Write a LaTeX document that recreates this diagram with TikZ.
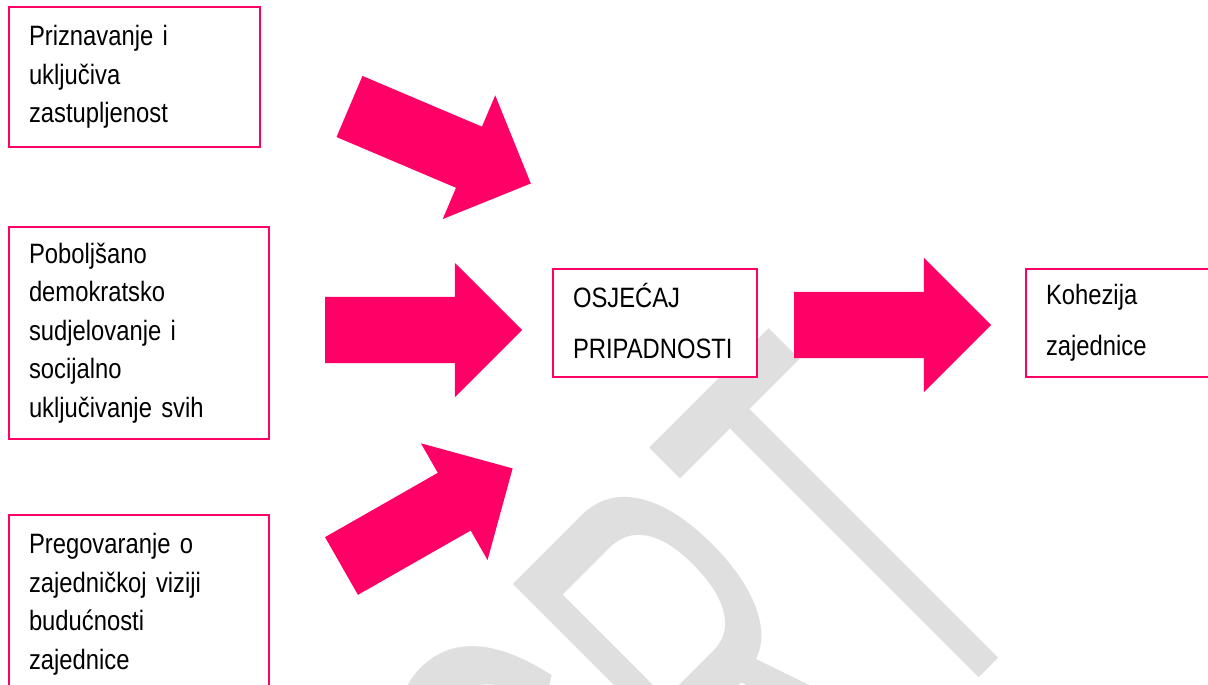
\documentclass[tikz,border=0pt]{standalone}
\usepackage{fontspec}
\usepackage{graphicx}
\setmainfont{Liberation Sans}[FakeStretch=0.85, WordSpace=0.85]
\newfontfamily\wmfont{Liberation Sans}
\usetikzlibrary{shapes.arrows}
\definecolor{pinkred}{RGB}{255,0,102}
\definecolor{wmgray}{RGB}{223,223,223}

\begin{document}
\begin{tikzpicture}[x=1pt, y=1pt,
  box/.style={draw=pinkred, line width=1.5pt, fill=white, anchor=north west, outer sep=0pt,
    align=left, inner xsep=20pt, inner ysep=0pt, font=\fontsize{28}{38.5}\selectfont},
  bigbox/.style={box, font=\fontsize{28}{51}\selectfont},
  blockarrow/.style={single arrow, fill=pinkred, anchor=tail, outer sep=0pt, inner xsep=0pt,
    inner ysep=33pt, minimum height=197pt, single arrow head extend=34pt}]
\useasboundingbox (0,0) rectangle (1208,-685);
\clip (0,0) rectangle (1208,-685);

\node[anchor=base east, rotate=45, inner sep=0pt, text=wmgray] (wm) at (1054,-603)
  {\wmfont\fontsize{575}{575}\selectfont\scalebox{0.52}[1]{NACRT}};

\node[box, minimum width=251pt, minimum height=140pt, text width=211pt] (recog) at (9,-7)
  {Priznavanje i\\uključiva\\zastupljenost};
\node[box, minimum width=260pt, minimum height=212pt, text width=220pt] (partic) at (9,-227)
  {Poboljšano\\demokratsko\\sudjelovanje i\\socijalno\\uključivanje svih};
\node[box, minimum width=260pt, minimum height=179pt, text width=220pt] (vision) at (9,-515)
  {Pregovaranje o\\zajedničkoj viziji\\budućnosti\\zajednice};
\node[bigbox, minimum width=204pt, minimum height=108pt, text width=164pt] (belong) at (553,-269)
  {OSJE\smash{Ć}AJ\\PRIPADNOSTI};
\node[bigbox, minimum width=204pt, minimum height=108pt, text width=164pt] (cohes) at (1026,-269)
  {Kohezija\\zajednice};

\node[blockarrow, rotate=-23] (arrA) at (349.5,-106.5) {};
\node[blockarrow] (arrB) at (325,-330) {};
\node[blockarrow, rotate=29.7] (arrC) at (341.5,-566) {};
\node[blockarrow] (arrD) at (794,-325) {};
\end{tikzpicture}
\end{document}
